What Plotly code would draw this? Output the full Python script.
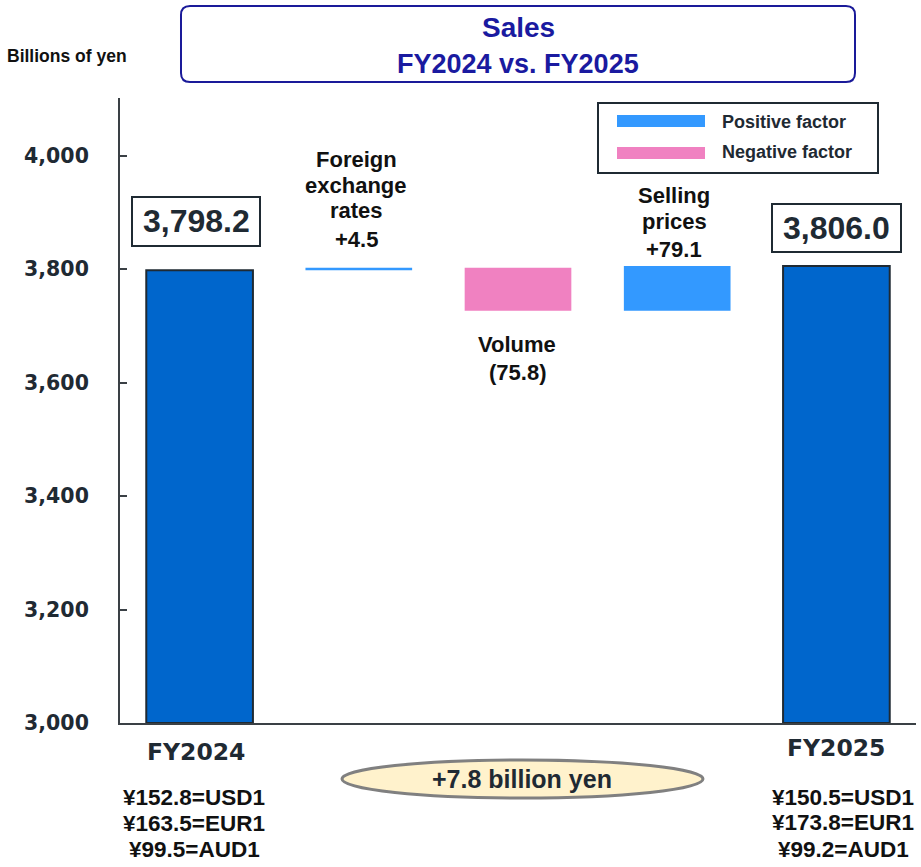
import plotly.graph_objects as go

# ---- data ----
categories = ["FY2024", "Foreign exchange rates", "Volume", "Selling prices", "FY2025"]
start_value = 3798.2
factor_deltas = [4.5, -75.8, 79.1]
end_value = 3806.0
y_ticks = [3000, 3200, 3400, 3600, 3800, 4000]
fx_2024 = ["¥152.8=USD1", "¥163.5=EUR1", "¥99.5=AUD1"]
fx_2025 = ["¥150.5=USD1", "¥173.8=EUR1", "¥99.2=AUD1"]
total_change_label = "+7.8 billion yen"

# ---- geometry helpers (figure px -> paper) ----
W, H = 921, 867
L, R, T, B = 120, 5, 98, 144
PW, PH = W - L - R, H - T - B
def px(x):
    return (x - L) / PW
def py(y):
    return (H - B - y) / PH

Y0, Y1 = 3000, 4102

# compute waterfall bases
bases, heights, colors = [], [], []
bases.append(Y0); heights.append(start_value - Y0); colors.append("#0066CC")
level = start_value
for d in factor_deltas:
    if d >= 0:
        bases.append(level); heights.append(d); colors.append("#3399FF")
    else:
        bases.append(level + d); heights.append(-d); colors.append("#F081C1")
    level += d
bases.append(Y0); heights.append(end_value - Y0); colors.append("#0066CC")
line_colors = ["#1f2a33", colors[1], colors[2], colors[3], "#1f2a33"]
line_widths = [2, 0, 0, 0, 2]

xs = list(range(len(categories)))
fig = go.Figure()
fig.add_trace(go.Bar(
    x=xs, y=heights, base=bases, width=0.67,
    marker=dict(color=colors, line=dict(color=line_colors, width=line_widths)),
    hoverinfo="skip", showlegend=False,
))

DARK = "#1f2a33"
ARIAL = "Liberation Sans, Arial, sans-serif"
DEJ = "DejaVu Sans, Verdana, sans-serif"

ann = []
def A(text, x, y, size, font=ARIAL, color="#111111", xanchor="center"):
    ann.append(dict(text="<b>" + text + "</b>", x=px(x), y=py(y), xref="paper", yref="paper",
                    showarrow=False, xanchor=xanchor, yanchor="middle",
                    font=dict(family=font, size=size, color=color)))
def lines(items, x, ys, size, **kw):
    for t, y in zip(items, ys):
        A(t, x, y, size, **kw)

# value boxes
A("3,798.2", 196, 221, 32, color=DARK)
A("3,806.0", 836, 228, 32, color=DARK)

# factor labels
lines(["Foreign", "exchange", "rates", "+4.5"], 356, [159, 185, 211, 239], 22)
lines(["Volume", "(75.8)"], 517, [344, 373], 22)
lines(["Selling", "prices", "+79.1"], 674, [195, 221, 250], 22)

# x category labels
A("FY2024", 196, 752, 23.5, font=DEJ, color=DARK)
A("FY2025", 836, 748, 23.5, font=DEJ, color=DARK)
lines(fx_2024, 194, [797, 823, 849], 22.5)
lines(fx_2025, 843, [797, 822, 849], 22.5)

# ellipse label
A(total_change_label, 522, 779, 25, color=DARK)

# unit label
A("Billions of yen", 5, 56, 17.5, xanchor="left")

# title
A("Sales", 518, 28, 28, color="#1a1aa0")
A("FY2024 vs. FY2025", 518, 64, 27, color="#1a1aa0")

# legend
A("Positive factor", 720, 122, 18, xanchor="left", color=DARK)
A("Negative factor", 720, 152, 18, xanchor="left", color=DARK)

shapes = []
# rounded title box
x0, x1, y0, y1, r = 181, 855, 6, 82, 9
def P(x, y):
    return f"{px(x):.5f},{py(y):.5f}"
path = (f"M {P(x0+r, y0)} L {P(x1-r, y0)} Q {P(x1, y0)} {P(x1, y0+r)} "
        f"L {P(x1, y1-r)} Q {P(x1, y1)} {P(x1-r, y1)} "
        f"L {P(x0+r, y1)} Q {P(x0, y1)} {P(x0, y1-r)} "
        f"L {P(x0, y0+r)} Q {P(x0, y0)} {P(x0+r, y0)} Z")
shapes.append(dict(type="path", path=path, xref="paper", yref="paper",
                   line=dict(color="#1a1a99", width=2), fillcolor="white", layer="below"))
# value boxes
shapes.append(dict(type="rect", xref="paper", yref="paper", x0=px(132), x1=px(260), y0=py(197), y1=py(246),
                   line=dict(color=DARK, width=2)))
shapes.append(dict(type="rect", xref="paper", yref="paper", x0=px(772), x1=px(901), y0=py(204), y1=py(252),
                   line=dict(color=DARK, width=2)))
# legend box and swatches
shapes.append(dict(type="rect", xref="paper", yref="paper", x0=px(598), x1=px(878), y0=py(103), y1=py(173),
                   line=dict(color=DARK, width=2), fillcolor="white"))
shapes.append(dict(type="rect", xref="paper", yref="paper", x0=px(617), x1=px(705), y0=py(115), y1=py(127),
                   line=dict(width=0), fillcolor="#3399FF"))
shapes.append(dict(type="rect", xref="paper", yref="paper", x0=px(617), x1=px(705), y0=py(147), y1=py(159),
                   line=dict(width=0), fillcolor="#F081C1"))
# ellipse
shapes.append(dict(type="circle", xref="paper", yref="paper", x0=px(342), x1=px(703), y0=py(760), y1=py(798),
                   line=dict(color="#808080", width=3), fillcolor="#FFF2CC", layer="below"))

fig.update_layout(
    width=W, height=H,
    margin=dict(l=L, r=R, t=T, b=B),
    paper_bgcolor="white", plot_bgcolor="white",
    xaxis=dict(range=[-0.5, 4.5], showticklabels=False, ticks="", showgrid=False, zeroline=False,
               showline=True, linecolor="#3a4045", linewidth=2, fixedrange=True),
    yaxis=dict(range=[Y0, Y1], tickvals=y_ticks, ticktext=[f"<b>{v:,}</b>" for v in y_ticks],
               ticks="inside", ticklen=7, tickwidth=2, tickcolor="#3a4045",
               showgrid=False, zeroline=False, showline=True, linecolor="#3a4045", linewidth=2,
               tickfont=dict(family=DEJ, size=20.5, color=DARK), ticklabelstandoff=25,
               fixedrange=True),
    annotations=ann,
    shapes=shapes,
    bargap=0.33,
)

fig.write_html("out.html", config={"displayModeBar": False},
               post_script="document.body.style.margin='0';document.body.style.padding='0';")
